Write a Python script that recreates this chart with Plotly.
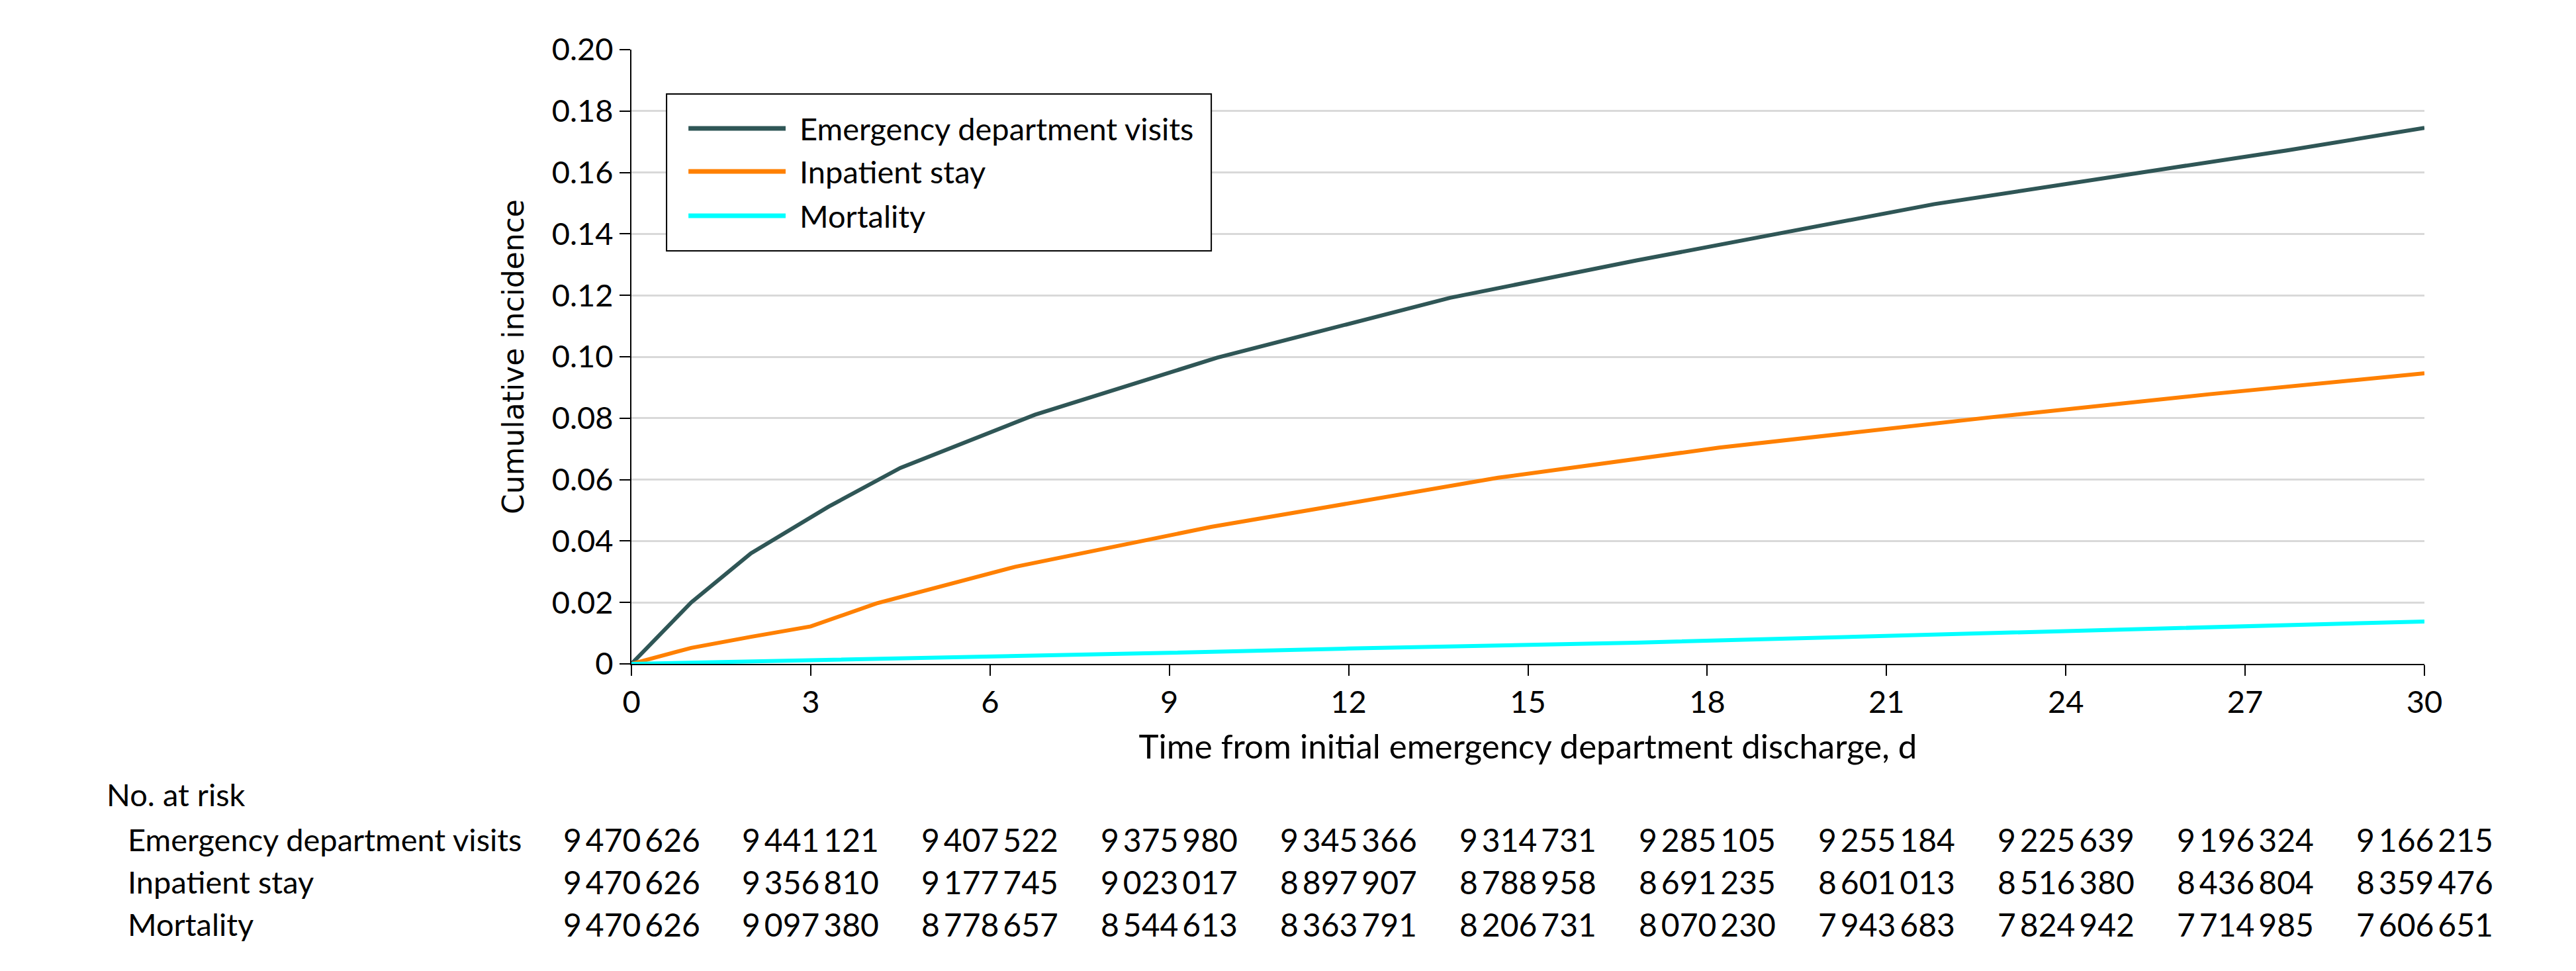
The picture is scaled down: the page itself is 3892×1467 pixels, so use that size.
import plotly.graph_objects as go

# ---------------- data ----------------
ed_days = [0, 1.0, 2.0, 3.3, 4.5, 6.75, 9.8, 13.7, 16.8, 21.8, 25.6, 27.7, 30]
ed_ci = [0, 0.020, 0.036, 0.0512, 0.0638, 0.0811, 0.0997, 0.1192, 0.1313, 0.1497, 0.1610, 0.1672, 0.1745]

ip_days = [0, 1, 2, 3, 4.1, 6.42, 9.7, 12, 14.5, 18.2, 22.7, 26.4, 30]
ip_ci = [0, 0.0052, 0.0088, 0.0122, 0.0197, 0.0316, 0.0446, 0.0523, 0.0606, 0.0704, 0.0802, 0.0878, 0.0946]

mort_days = [0, 3, 6, 9, 12, 16.8, 22.7, 30]
mort_ci = [0, 0.0011, 0.0023, 0.0036, 0.0050, 0.0069, 0.0100, 0.0138]

series_names = ["Emergency department visits", "Inpatient stay", "Mortality"]
series_colors = ["#2F5656", "#FF8000", "#00FFFF"]

risk_days = [0, 3, 6, 9, 12, 15, 18, 21, 24, 27, 30]
risk_ed = [9470626, 9441121, 9407522, 9375980, 9345366, 9314731, 9285105, 9255184, 9225639, 9196324, 9166215]
risk_ip = [9470626, 9356810, 9177745, 9023017, 8897907, 8788958, 8691235, 8601013, 8516380, 8436804, 8359476]
risk_mort = [9470626, 9097380, 8778657, 8544613, 8363791, 8206731, 8070230, 7943683, 7824942, 7714985, 7606651]

y_ticks = [0, 0.02, 0.04, 0.06, 0.08, 0.10, 0.12, 0.14, 0.16, 0.18, 0.20]
y_ticktext = ["0", "0.02", "0.04", "0.06", "0.08", "0.10", "0.12", "0.14", "0.16", "0.18", "0.20"]
x_ticks = [0, 3, 6, 9, 12, 15, 18, 21, 24, 27, 30]

FONT = "Lato, 'Liberation Sans', Arial, sans-serif"
TITLE_FONT = "'DejaVu Sans', Verdana, sans-serif"


def fmt(n):
    return f"{n:,}".replace(",", "\u2009")


fig = go.Figure()
for days, vals, name, col in zip([ed_days, ip_days, mort_days], [ed_ci, ip_ci, mort_ci],
                                 series_names, series_colors):
    fig.add_trace(go.Scatter(x=days, y=vals, mode="lines", name=name,
                             line=dict(color=col, width=6), showlegend=False,
                             cliponaxis=False))

# ---------------- custom legend (boxed, long line samples) ----------------
shapes = [dict(type="rect", xref="paper", yref="paper", x0=0.0196, x1=0.3234, y0=0.6724, y1=0.9278,
               line=dict(color="black", width=2), fillcolor="white", layer="above")]
legend_y = [0.8718, 0.8017, 0.7295]
annotations = []
for name, col, ly in zip(series_names, series_colors, legend_y):
    shapes.append(dict(type="line", xref="paper", yref="paper", x0=0.0318, x1=0.0860, y0=ly, y1=ly,
                       line=dict(color=col, width=7), layer="above"))
    annotations.append(dict(xref="paper", yref="paper", x=0.0930, y=ly, text=name, showarrow=False,
                            xanchor="left", yanchor="middle", font=dict(family=FONT, size=47, color="black")))

# ---------------- number at risk table ----------------
annotations.append(dict(xref="paper", yref="paper", x=-0.2935, y=-0.2125, text="No. at risk",
                        showarrow=False, xanchor="left", yanchor="middle",
                        font=dict(family=FONT, size=47, color="black")))
row_y = [-0.2856, -0.3550, -0.4240]
for name, counts, ry in zip(series_names, [risk_ed, risk_ip, risk_mort], row_y):
    annotations.append(dict(xref="paper", yref="paper", x=-0.2817, y=ry, text=name, showarrow=False,
                            xanchor="left", yanchor="middle",
                            font=dict(family=FONT, size=47, color="black")))
    for d, c in zip(risk_days, counts):
        annotations.append(dict(xref="x", yref="paper", x=d, y=ry, text=fmt(c), showarrow=False,
                                xanchor="center", yanchor="middle",
                                font=dict(family=FONT, size=48, color="black")))

# The page body has an 8 px default margin; size/margins compensate so the
# plot area lands at the same pixel place as the reference.
fig.update_layout(
    width=3884, height=1459, autosize=False,
    margin=dict(l=946, r=229, t=67, b=464, pad=0),
    paper_bgcolor="white", plot_bgcolor="white",
    font=dict(family=FONT, size=47, color="black"),
    shapes=shapes, annotations=annotations,
    xaxis=dict(range=[0, 30], tickmode="array", tickvals=x_ticks, ticks="outside", ticklen=16,
               tickwidth=2, tickcolor="black", showline=True, linecolor="black", linewidth=2,
               showgrid=False, zeroline=False, layer="below traces",
               tickfont=dict(family=FONT, size=47, color="black"),
               title=dict(text="Time from initial emergency department discharge, d",
                          font=dict(family=FONT, size=51, color="black"), standoff=24)),
    yaxis=dict(range=[0, 0.2], tickmode="array", tickvals=y_ticks, ticktext=y_ticktext,
               ticks="outside", ticklen=16, tickwidth=2, tickcolor="black",
               showline=True, linecolor="black", linewidth=2,
               showgrid=True, gridcolor="#D9D9D9", gridwidth=3, zeroline=False,
               layer="below traces",
               tickfont=dict(family=FONT, size=47, color="black"),
               title=dict(text="Cumulative incidence",
                          font=dict(family=TITLE_FONT, size=44, color="black"), standoff=28)),
)

fig.write_html("out.html")
